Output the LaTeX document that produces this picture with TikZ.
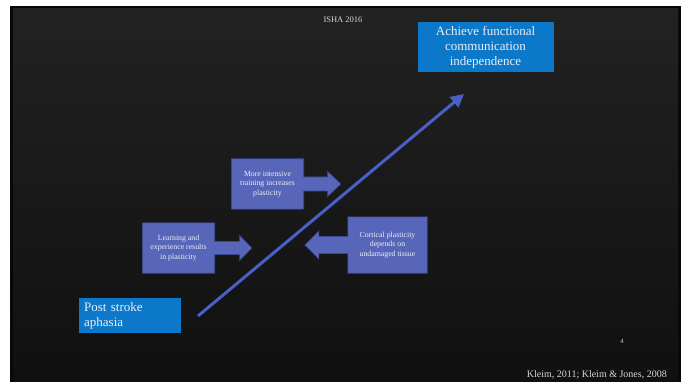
\documentclass[tikz,border=0pt]{standalone}
\usepackage{fontspec}
\setmainfont{Liberation Serif}
\usetikzlibrary{arrows.meta,calc,backgrounds}

\definecolor{slideedge}{RGB}{8,8,8}
\definecolor{slidetop}{RGB}{34,34,34}
\definecolor{slidebottom}{RGB}{16,16,16}
\definecolor{keyblue}{RGB}{11,120,201}
\definecolor{calloutfill}{RGB}{87,102,184}
\definecolor{calloutline}{RGB}{58,72,150}
\definecolor{pathblue}{RGB}{72,96,200}
\definecolor{softwhite}{RGB}{236,238,246}
\definecolor{labelgray}{RGB}{215,215,215}

\tikzset{
  keybox/.style={fill=keyblue, text=softwhite, inner sep=0pt},
  calloutbox/.style={inner sep=0pt, text=softwhite, align=center,
    font=\fontsize{7.8}{9.3}\selectfont},
  calloutshape/.style={fill=calloutfill, draw=calloutline, line width=0.6pt},
  progress/.style={draw=pathblue, line width=3pt,
    -{Triangle[length=13pt,width=13pt]}},
  smalllabel/.style={text=labelgray, inner sep=0pt}
}

\begin{document}
\begin{tikzpicture}[x=1pt,y=-1pt]
\useasboundingbox (0,0) rectangle (685,382);

% slide background
\begin{scope}[on background layer]
  \fill[white] (0,0) rectangle (685,382);
  \fill[slideedge] (10,6) rectangle (681,382);
  \shade[top color=slidetop, bottom color=slidebottom] (13,9) rectangle (678,382);
\end{scope}

% header, page number, references
\node[smalllabel, font=\fontsize{8.5}{10}\selectfont] (header) at (343,20) {ISHA 2016};
\node[smalllabel, font=\fontsize{6.5}{7}\selectfont] (pagenum) at (622,341) {4};
\node[smalllabel, anchor=east, font=\fontsize{10}{12}\selectfont] (refs) at (667,375)
  {Kleim, 2011; Kleim \& Jones, 2008};

% start and goal
\node[keybox, minimum width=136pt, minimum height=50pt, align=center,
      font=\fontsize{13}{15}\selectfont] (goal) at (485.5,47)
  {Achieve functional\\communication\\independence};
\node[keybox, anchor=north west, minimum height=35pt, text width=92pt,
      inner xsep=5pt, align=left, font=\fontsize{13}{15}\selectfont] (start) at (79,298)
  {Post stroke\\aphasia};

% the progress arrow
\coordinate (pathstart) at (198,316);
\coordinate (pathend) at (464,94);
\draw[progress] (pathstart) -- (pathend);

% callouts
\node[calloutbox, minimum width=72pt, minimum height=50pt] (intensive) at (267.5,184)
  {More intensive\\training increases\\plasticity};
\node[calloutbox, minimum width=72pt, minimum height=50pt] (learning) at (178.5,248)
  {Learning and\\experience results\\in plasticity};
\node[calloutbox, minimum width=79pt, minimum height=56pt] (cortical) at (387.5,245)
  {Cortical plasticity\\depends on\\undamaged tissue};

\begin{scope}[on background layer]
  \path[calloutshape] (intensive.north west) -- (intensive.north east)
    -- ($(intensive.east)+(0,-7)$) -- ($(intensive.east)+(24,-7)$)
    -- ($(intensive.east)+(24,-12.5)$) -- ($(intensive.east)+(37,0)$)
    -- ($(intensive.east)+(24,12.5)$) -- ($(intensive.east)+(24,7)$)
    -- ($(intensive.east)+(0,7)$) -- (intensive.south east)
    -- (intensive.south west) -- cycle;
  \path[calloutshape] (learning.north west) -- (learning.north east)
    -- ($(learning.east)+(0,-6.5)$) -- ($(learning.east)+(25,-6.5)$)
    -- ($(learning.east)+(25,-12.5)$) -- ($(learning.east)+(37,0)$)
    -- ($(learning.east)+(25,12.5)$) -- ($(learning.east)+(25,6.5)$)
    -- ($(learning.east)+(0,6.5)$) -- (learning.south east)
    -- (learning.south west) -- cycle;
  \path[calloutshape] (cortical.north east) -- (cortical.north west)
    -- ($(cortical.west)+(0,-8.5)$) -- ($(cortical.west)+(-29,-8.5)$)
    -- ($(cortical.west)+(-29,-14)$) -- ($(cortical.west)+(-43,0)$)
    -- ($(cortical.west)+(-29,14)$) -- ($(cortical.west)+(-29,8.5)$)
    -- ($(cortical.west)+(0,8.5)$) -- (cortical.south west)
    -- (cortical.south east) -- cycle;
\end{scope}
\end{tikzpicture}
\end{document}
